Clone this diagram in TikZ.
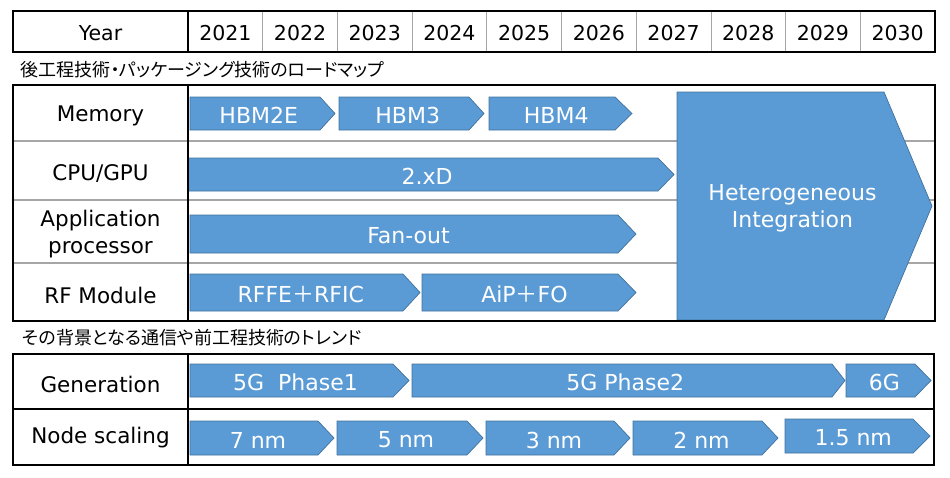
\documentclass[tikz,border=0pt]{standalone}
\usepackage{fontspec}
\setmainfont{DejaVu Sans}
\newfontfamily\jpfont{Noto Sans CJK JP}[RawFeature=+palt]

\definecolor{barblue}{HTML}{5B9BD5}
\definecolor{barline}{HTML}{41719C}
\definecolor{rulegray}{HTML}{A6A6A6}

\tikzset{
	frame/.style={draw=black, line width=2.4pt},
	rowsep/.style={draw=rulegray, line width=1.4pt},
	colsep/.style={draw=rulegray, line width=0.8pt},
	chev/.style={fill=barblue, draw=barline, line width=0.7pt},
	head/.style={font=\fontsize{20.5}{22}\selectfont, yshift=-1.5pt},
	rowlabel/.style={font=\fontsize{21.5}{27}\selectfont, align=center},
	bartext/.style={text=white, font=\fontsize{22}{27}\selectfont, align=center, yshift=-2pt},
	title/.style={font=\jpfont\fontsize{18}{20}\selectfont, anchor=west},
}

% name, left, tip, top, bottom, point depth, text
\newcommand{\roadarrow}[7]{%
	\filldraw[chev] (#2,#4) -- ({#3-#6},#4) -- (#3,{(#4+#5)/2}) -- ({#3-#6},#5) -- (#2,#5) -- cycle;
	\node[bartext] (#1) at ({(#2+#3-#6/2)/2},{(#4+#5)/2}) {#7};
}
\newcommand{\plusjp}{{\jpfont ＋}}

\begin{document}
\begin{tikzpicture}[x=1pt, y=-1pt]
	\useasboundingbox (0,0) rectangle (950,477);
	
	\foreach \i in {1,...,9}
		\draw[colsep] ({188+74.7*\i},11) -- ({188+74.7*\i},52);
	\draw[frame] (13,11) rectangle (935,52);
	\draw[frame] (188,11) -- (188,52);
	\node[head] (year) at (100.5,31.5) {Year};
	\foreach \yr [count=\i from 0] in {2021,...,2030}
		\node[head] (y\yr) at ({225.35+74.7*\i},31.5) {\yr};
	
	\node[title] (pkgtitle) at (17,70) {後工程技術・パッケージング技術のロードマップ};
	
	\foreach \y in {141,200,263}
		\draw[rowsep] (13,\y) -- (935,\y);
	\node[rowlabel] (memory) at (100.5,116) {Memory};
	\node[rowlabel] (cpugpu) at (100.5,174) {CPU/GPU};
	\node[rowlabel] (appproc) at (100.5,234) {Application\\processor};
	\node[rowlabel] (rfmod) at (100.5,295) {RF Module};
	
	\roadarrow{hbmtwoe}{190}{335}{97}{130}{15}{HBM2E}
	\roadarrow{hbmthree}{339}{484}{97}{130}{15}{HBM3}
	\roadarrow{hbmfour}{489}{632}{97}{130}{17}{HBM4}
	\roadarrow{twoxd}{188}{674}{158}{191}{16}{2.xD}
	\roadarrow{fanout}{190}{636}{215}{253}{18}{Fan-out}
	\roadarrow{rffe}{190}{420}{274}{311}{17}{RFFE\plusjp RFIC}
	\roadarrow{aipfo}{422}{636}{274}{311}{18}{AiP\plusjp FO}
	\roadarrow{hetero}{677}{932}{92}{320}{48}{Heterogeneous\\Integration}
	
	\draw[frame] (13,85) rectangle (935,321);
	\draw[frame] (188,85) -- (188,321);
	
	\node[title] (trendtitle) at (19,338) {その背景となる通信や前工程技術のトレンド};
	
	\node[rowlabel] (generation) at (100.5,384) {Generation};
	\node[rowlabel] (nodescale) at (100.5,438) {Node scaling};
	
	\roadarrow{phaseone}{190}{409}{364}{397}{16}{5G\ \ Phase1}
	\roadarrow{phasetwo}{412}{845}{364}{397}{13}{5G Phase2}
	\roadarrow{sixg}{846}{931}{364}{397}{16}{6G}
	\roadarrow{nmseven}{190}{334}{421}{455}{16}{7 nm}
	\roadarrow{nmfive}{337}{483}{421}{455}{16}{5 nm}
	\roadarrow{nmthree}{486}{630}{421}{455}{16}{3 nm}
	\roadarrow{nmtwo}{633}{778}{421}{455}{16}{2 nm}
	\roadarrow{nmonefive}{785}{930}{419}{453}{17}{1.5 nm}
	
	\draw[frame] (13,354) rectangle (934,465);
	\draw[frame] (13,409) -- (934,409);
	\draw[frame] (188,354) -- (188,465);
\end{tikzpicture}
\end{document}
